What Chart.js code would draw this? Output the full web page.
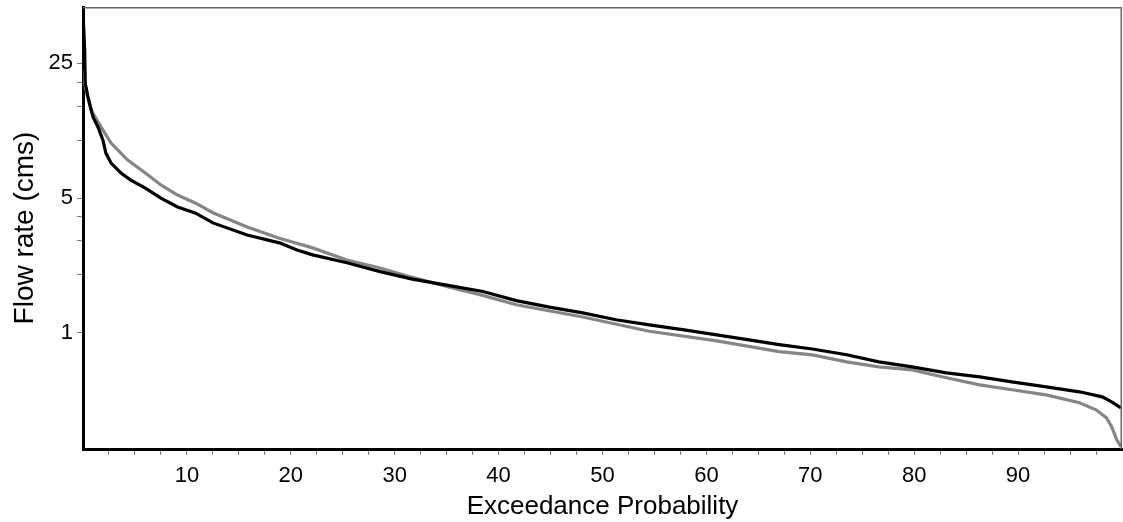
<!DOCTYPE html>
<html>
<head>
<meta charset="utf-8">
<script src="https://cdn.jsdelivr.net/npm/chart.js@4/dist/chart.umd.min.js"></script>
<style>
  html, body { margin: 0; padding: 0; background: #fff; }
  #wrap { width: 1123px; height: 522px; }
</style>
</head>
<body>
<div id="wrap"><canvas id="fdcChart"></canvas></div>
<script>
// flow duration curves: exceedance probability (%) vs flow (cms)
const probObs = [0, 0.16, 0.22, 0.48, 0.96, 1.44, 1.92, 2.2, 2.7, 3.65, 4.6, 6.0, 7.5, 9.1, 10.8,
  12.5, 15.8, 18.9, 20.6, 22.1, 25.4, 28.6, 31.7, 35, 38.5, 41.7, 44.9, 48.1, 51.3, 54.5, 57.7,
  61, 64.1, 67, 70.2, 73.5, 76.6, 79.8, 83.1, 86.3, 89.4, 92.7, 95.9, 98.1, 99.0, 99.9];
const flowObs = [46, 29.3, 19.7, 16.7, 13.2, 11.7, 10, 8.56, 7.6, 6.75, 6.2, 5.64, 5.0, 4.5, 4.19,
  3.72, 3.22, 2.93, 2.69, 2.54, 2.31, 2.08, 1.90, 1.77, 1.64, 1.47, 1.36, 1.27, 1.17, 1.10, 1.04,
  0.976, 0.92, 0.87, 0.825, 0.77, 0.708, 0.667, 0.621, 0.592, 0.557, 0.525, 0.495, 0.466, 0.439, 0.409];

const probSim = [0, 0.25, 0.77, 1.73, 2.7, 4.3, 6.0, 7.5, 9.1, 10.8, 12.5, 15.8, 18.9, 22.1, 25.4,
  28.6, 31.7, 35, 38.2, 41.7, 48.1, 54.5, 61, 67, 70.2, 73.5, 76.6, 79.8, 83.1, 86.3, 89.4, 92.7,
  95.9, 97.5, 98.5, 99.0, 99.5, 99.9];
const flowSim = [23, 18.5, 14.3, 11.7, 9.65, 7.87, 6.75, 5.85, 5.19, 4.72, 4.2, 3.54, 3.1, 2.76, 2.39,
  2.17, 1.94, 1.74, 1.58, 1.40, 1.21, 1.02, 0.91, 0.80, 0.769, 0.708, 0.667, 0.643, 0.585, 0.538,
  0.507, 0.477, 0.434, 0.399, 0.363, 0.326, 0.279, 0.257];

const xTickStep = 2.5;
const xLabels = [10, 20, 30, 40, 50, 60, 70, 80, 90];
const yTicks = [1, 2, 3, 4, 5, 10, 15, 20, 25];
const yLabels = [1, 5, 25];

function toPoints(xs, ys) {
  return xs.map((x, i) => ({ x: x, y: ys[i] }));
}

// thin frame on the top and right of the plot area
const frameLines = {
  id: 'frameLines',
  afterDraw(chart) {
    const { ctx, chartArea: a } = chart;
    ctx.save();
    ctx.strokeStyle = '#666';
    ctx.lineWidth = 1.5;
    ctx.beginPath();
    ctx.moveTo(a.left, a.top + 0.75);
    ctx.lineTo(a.right - 0.75, a.top + 0.75);
    ctx.lineTo(a.right - 0.75, a.bottom);
    ctx.stroke();
    ctx.restore();
  }
};

const tickFont = { family: 'Liberation Sans, Arial, sans-serif', size: 22 };
const titleFont = { family: 'Liberation Sans, Arial, sans-serif', size: 26 };

new Chart(document.getElementById('fdcChart'), {
  type: 'line',
  data: {
    datasets: [
      {
        label: 'Observed',
        data: toPoints(probObs, flowObs),
        borderColor: '#000000',
        borderWidth: 3.2,
        pointRadius: 0,
        tension: 0
      },
      {
        label: 'Simulated',
        data: toPoints(probSim, flowSim),
        borderColor: '#858585',
        borderWidth: 3.2,
        pointRadius: 0,
        tension: 0
      }
    ]
  },
  options: {
    responsive: true,
    maintainAspectRatio: false,
    animation: false,
    layout: { padding: { left: 0, top: 7, right: 1, bottom: 0 } },
    plugins: {
      legend: { display: false },
      tooltip: { enabled: false }
    },
    scales: {
      x: {
        type: 'linear',
        min: 0,
        max: 100,
        afterBuildTicks(scale) {
          const t = [];
          for (let v = xTickStep; v < 100; v += xTickStep) t.push({ value: v });
          scale.ticks = t;
        },
        afterFit(scale) {
          scale.height = 73;
          scale.paddingLeft = 0;
          scale.paddingRight = 0;
        },
        ticks: {
          color: '#000',
          font: tickFont,
          padding: 8,
          maxRotation: 0,
          autoSkip: false,
          callback: (v) => xLabels.includes(v) ? String(v) : ''
        },
        grid: { drawOnChartArea: false, drawTicks: true, tickLength: 6, color: '#7a7a7a', lineWidth: 1 },
        border: { display: true, color: '#000', width: 3 },
        title: {
          display: true,
          text: 'Exceedance Probability',
          color: '#000',
          font: titleFont,
          padding: { top: 0, bottom: 0 }
        }
      },
      y: {
        type: 'logarithmic',
        min: 0.25,
        max: 49,
        afterBuildTicks(scale) {
          scale.ticks = yTicks.map(v => ({ value: v }));
        },
        afterFit(scale) {
          scale.width = 83;
          scale.paddingTop = 0;
          scale.paddingBottom = 0;
        },
        ticks: {
          color: '#000',
          font: tickFont,
          padding: 4,
          autoSkip: false,
          callback: (v) => yLabels.includes(v) ? String(v) : ''
        },
        grid: { drawOnChartArea: false, drawTicks: true, tickLength: 6, color: '#7a7a7a', lineWidth: 1 },
        border: { display: true, color: '#000', width: 3 },
        title: {
          display: true,
          text: 'Flow rate (cms)',
          color: '#000',
          font: { family: titleFont.family, size: 28 },
          padding: { top: 8, bottom: 0 }
        }
      }
    }
  },
  plugins: [frameLines]
});
</script>
</body>
</html>
